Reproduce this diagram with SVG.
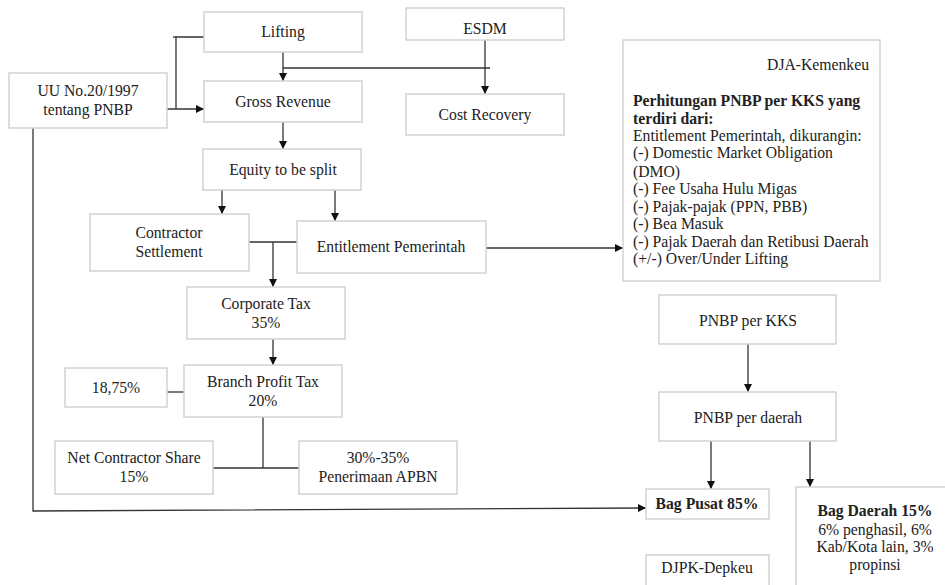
<svg xmlns="http://www.w3.org/2000/svg" width="945" height="585" viewBox="0 0 945 585">
<style>
.box{fill:#fff;stroke:#d2d2d2;stroke-width:1.5}
text{font-family:"Liberation Serif","Times New Roman",serif;font-size:15.7px;fill:#222;text-anchor:middle}
.b{font-weight:bold}
.l{text-anchor:start}
.r{text-anchor:end}
.c{fill:none;stroke:#333;stroke-width:1.3}
.a{marker-end:url(#ah)}
</style>
<defs>
<marker id="ah" viewBox="0 0 10 10" refX="10" refY="5" markerWidth="8" markerHeight="8" markerUnits="userSpaceOnUse" orient="auto">
<path d="M0,0 L10,5 L0,10 z" fill="#111"/>
</marker>
</defs>
<rect width="945" height="585" fill="#fff"/>
<g id="connectors">
<polyline class="c" points="204,37 176,37 176,109"/>
<line class="c" x1="173" y1="37" x2="176" y2="37"/>
<line class="c a" x1="167" y1="109" x2="204" y2="109"/>
<line class="c a" x1="283" y1="52" x2="283" y2="81"/>
<line class="c" x1="283" y1="68" x2="490" y2="68"/>
<line class="c a" x1="485" y1="40" x2="485" y2="94"/>
<line class="c a" x1="283" y1="122" x2="283" y2="149"/>
<line class="c a" x1="222" y1="190" x2="222" y2="214"/>
<line class="c a" x1="335" y1="190" x2="335" y2="221"/>
<line class="c" x1="249" y1="242" x2="303" y2="242"/>
<line class="c a" x1="273" y1="242" x2="273" y2="287"/>
<line class="c a" x1="486" y1="248" x2="623" y2="248"/>
<line class="c a" x1="273" y1="339" x2="273" y2="365"/>
<line class="c" x1="167" y1="392" x2="184" y2="392"/>
<line class="c" x1="263" y1="417" x2="263" y2="468"/>
<line class="c" x1="213" y1="468" x2="299" y2="468"/>
<polyline class="c a" points="33,128 33,511 646,508"/>
<line class="c a" x1="748" y1="344" x2="748" y2="392"/>
<line class="c a" x1="711" y1="441" x2="711" y2="489"/>
<line class="c a" x1="810" y1="441" x2="810" y2="487"/>
</g>
<g id="lifting"><rect class="box" x="204" y="12" width="158" height="40"/><text x="283" y="37">Lifting</text></g>
<g id="esdm"><rect class="box" x="406" y="8" width="158" height="32"/><text x="485" y="34">ESDM</text></g>
<g id="cost-recovery"><rect class="box" x="406" y="94" width="158" height="41"/><text x="485" y="120">Cost Recovery</text></g>
<g id="uu"><rect class="box" x="9" y="73" width="158" height="55"/><text x="88" y="96">UU No.20/1997</text><text x="88" y="115">tentang PNBP</text></g>
<g id="gross-revenue"><rect class="box" x="204" y="81" width="158" height="41"/><text x="283" y="107">Gross Revenue</text></g>
<g id="equity"><rect class="box" x="203" y="149" width="158" height="41"/><text x="283" y="175">Equity to be split</text></g>
<g id="contractor-settlement"><rect class="box" x="90" y="214" width="159" height="57"/><text x="169" y="238">Contractor</text><text x="169" y="257">Settlement</text></g>
<g id="entitlement"><rect class="box" x="297" y="221" width="189" height="52"/><text x="391" y="252">Entitlement Pemerintah</text></g>
<g id="dja"><rect class="box" x="623" y="40" width="257" height="241"/>
<text class="r" x="869" y="70">DJA-Kemenkeu</text>
<text class="l b" x="633" y="106">Perhitungan PNBP per KKS yang</text>
<text class="l b" x="633" y="124">terdiri dari:</text>
<text class="l" x="633" y="141">Entitlement Pemerintah, dikurangin:</text>
<text class="l" x="633" y="158">(-) Domestic Market Obligation</text>
<text class="l" x="633" y="177">(DMO)</text>
<text class="l" x="633" y="194">(-) Fee Usaha Hulu Migas</text>
<text class="l" x="633" y="212">(-) Pajak-pajak (PPN, PBB)</text>
<text class="l" x="633" y="229">(-) Bea Masuk</text>
<text class="l" x="633" y="247">(-) Pajak Daerah dan Retibusi Daerah</text>
<text class="l" x="633" y="264">(+/-) Over/Under Lifting</text>
</g>
<g id="corporate-tax"><rect class="box" x="187" y="287" width="158" height="52"/><text x="266" y="309">Corporate Tax</text><text x="266" y="328">35%</text></g>
<g id="branch-profit-tax"><rect class="box" x="184" y="365" width="158" height="52"/><text x="263" y="387">Branch Profit Tax</text><text x="263" y="406">20%</text></g>
<g id="pct1875"><rect class="box" x="65" y="368" width="102" height="39"/><text x="116" y="393">18,75%</text></g>
<g id="net-contractor-share"><rect class="box" x="55" y="441" width="158" height="53"/><text x="134" y="463">Net Contractor Share</text><text x="134" y="482">15%</text></g>
<g id="penerimaan-apbn"><rect class="box" x="299" y="441" width="158" height="53"/><text x="378" y="463">30%-35%</text><text x="378" y="482">Penerimaan APBN</text></g>
<g id="pnbp-kks"><rect class="box" x="659" y="295" width="177" height="49"/><text x="748" y="326">PNBP per KKS</text></g>
<g id="pnbp-daerah"><rect class="box" x="659" y="392" width="177" height="49"/><text x="748" y="423">PNBP per daerah</text></g>
<g id="bag-pusat"><rect class="box" x="646" y="489" width="123" height="30"/><text class="b" x="707" y="509">Bag Pusat 85%</text></g>
<g id="bag-daerah"><rect class="box" x="796" y="487" width="170" height="120"/>
<text class="b" x="875" y="516">Bag Daerah 15%</text>
<text x="875" y="535">6% penghasil, 6%</text>
<text x="875" y="552">Kab/Kota lain, 3%</text>
<text x="875" y="570">propinsi</text>
</g>
<g id="djpk"><rect class="box" x="646" y="555" width="123" height="40"/><text x="707" y="573">DJPK-Depkeu</text></g>
</svg>
